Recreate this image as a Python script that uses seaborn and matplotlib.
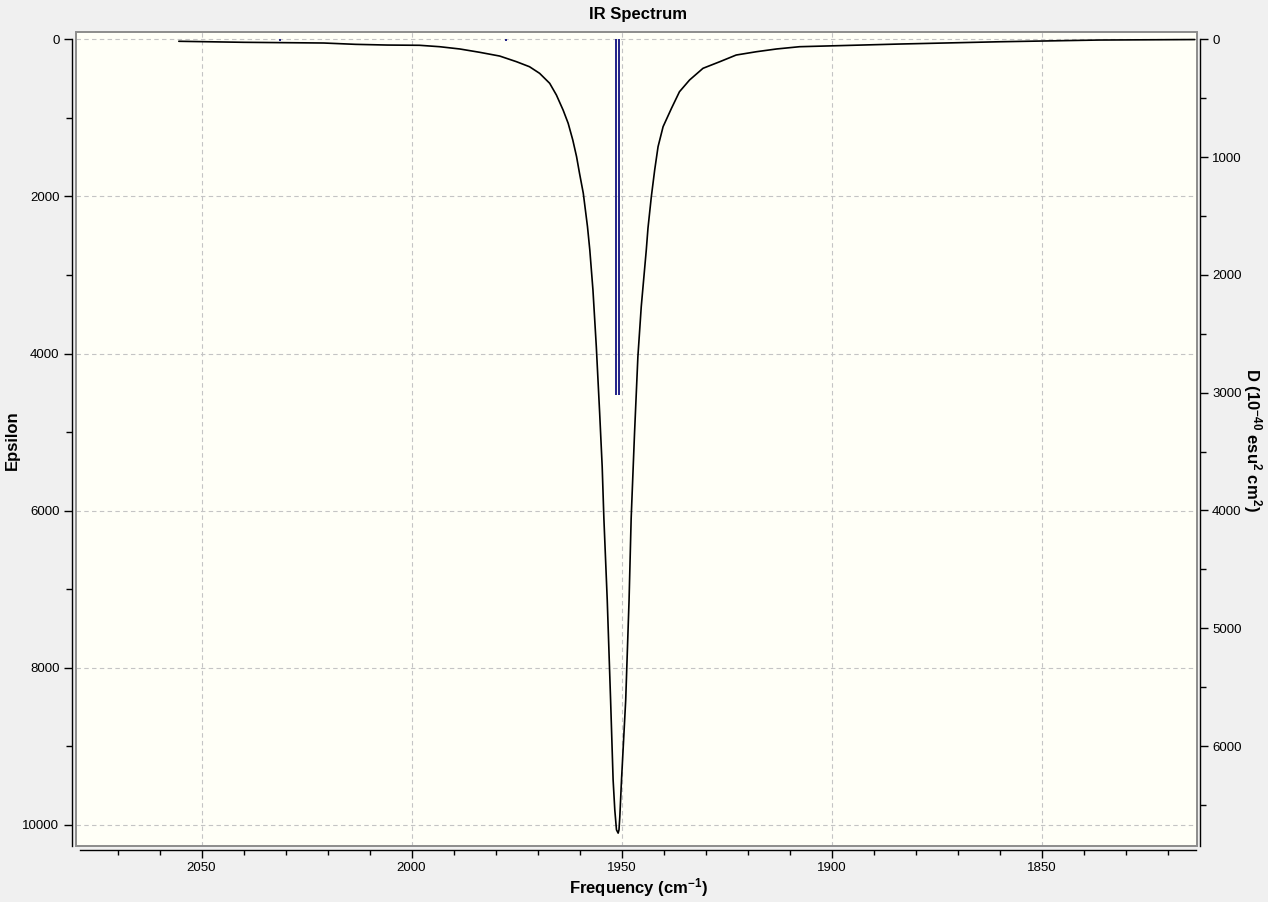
import numpy as np
import pandas as pd
import matplotlib
matplotlib.use("Agg")
import matplotlib.pyplot as plt
from matplotlib.patches import Rectangle
from matplotlib.ticker import MultipleLocator, FixedLocator
import seaborn as sns

# spectrum curve (cm-1, epsilon)
freq = [2055.4, 2040.0, 2020.9, 2013.3, 2005.7, 1998.1, 1993.3, 1988.5, 1983.8,
        1979.0, 1975.0, 1971.9, 1969.5, 1967.1, 1965.5, 1963.9, 1962.7, 1961.6,
        1960.7, 1960.0, 1959.1, 1958.1, 1957.55, 1956.8, 1956.0, 1955.2, 1954.6,
        1954.2, 1953.4, 1952.6, 1952.0, 1951.6, 1951.2, 1950.8,
        1950.6, 1950.4, 1950.0, 1949.5, 1949.0, 1948.2, 1947.7, 1946.9, 1946.1,
        1945.3, 1944.1, 1943.7, 1942.9, 1942.1, 1941.3, 1940.1, 1938.1, 1936.2,
        1933.8, 1930.6, 1926.6, 1922.7, 1917.9, 1913.1, 1907.6, 1883.8, 1860.0,
        1836.2, 1813.5]
epsilon = [25, 38, 47, 64, 73, 76, 94, 123, 165,
           213, 285, 349, 433, 560, 709, 901, 1069, 1282,
           1494, 1705, 1960, 2385, 2681, 3191, 3912, 4760, 5440,
           6096, 7136, 8409, 9427, 9809, 10063, 10105,
           10063, 9894, 9427, 8918, 8409, 7136, 6096, 5014, 4040,
           3403, 2681, 2405, 2003, 1663, 1367, 1112, 878, 667,
           518, 369, 285, 200, 158, 123, 94, 60, 31,
           9, 3]

# stick spectrum (cm-1, D in 10^-40 esu^2 cm^2)
stick_freq = [2031.2, 1977.4, 1951.2, 1950.6]
stick_d = [15, 15, 3020, 3020]

x_minor = [2070, 2060, 2040, 2030, 2020, 2010, 1990, 1980, 1970, 1960,
           1940, 1930, 1920, 1910, 1890, 1880, 1870, 1860, 1840, 1830, 1820]

sns.set_style("ticks")
plt.rcParams["font.family"] = ["Liberation Sans", "DejaVu Sans"]
plt.rcParams["mathtext.fontset"] = "custom"
plt.rcParams["mathtext.rm"] = "Liberation Sans"
plt.rcParams["mathtext.bf"] = "Liberation Sans:bold"
plt.rcParams["mathtext.default"] = "bf"
for key in ["text.color", "axes.labelcolor", "xtick.color", "ytick.color"]:
    plt.rcParams[key] = "black"

W, H = 1268, 902
fig = plt.figure(figsize=(W / 100, H / 100), dpi=100, facecolor="#F0F0F0")
left, right, top, bottom = 75.5, 1196.5, 31.7, 846
ax = fig.add_axes([left / W, 1 - bottom / H, (right - left) / W, (bottom - top) / H])
ax.set_facecolor("#FFFFF7")

df = pd.DataFrame({"freq": freq, "eps": epsilon})
sns.lineplot(data=df, x="freq", y="eps", ax=ax, color="black", lw=1.2,
             estimator=None, sort=False)

ax.set_xlim(2080.0, 1813.1)
ax.set_ylim(10269, -97)
ax.set_xlabel("")
ax.set_ylabel("")

ax.xaxis.set_major_locator(MultipleLocator(50))
ax.xaxis.set_minor_locator(FixedLocator(x_minor))
ax.yaxis.set_major_locator(MultipleLocator(2000))
ax.yaxis.set_minor_locator(MultipleLocator(1000))
ax.grid(True, which="major", color="#C4C4C4", linestyle=(0, (4, 3)), lw=0.8)

for s in ["top", "right"]:
    ax.spines[s].set_visible(False)
for s in ["left", "bottom"]:
    ax.spines[s].set_position(("outward", 2.6))
    ax.spines[s].set_color("black")
    ax.spines[s].set_linewidth(1.0)
ax.spines["left"].set_bounds(0, 10269)
ax.spines["bottom"].set_bounds(2079, 1813.1)

ax.tick_params(which="major", length=6, width=1, color="black", labelsize=9.5, pad=3)
ax.tick_params(which="minor", length=3.5, width=1, color="black")
ax.tick_params(axis="y", which="minor", length=4.5)

# grey frame around the plotting area
ax.add_patch(Rectangle((0, 0), 1, 1, transform=ax.transAxes, fill=False,
                       edgecolor="#8C8C8C", lw=1.4, clip_on=False, zorder=5))

# right axis with stick intensities
ax2 = ax.twinx()
ax2.vlines(stick_freq, 0, stick_d, color="#101080", lw=1.3)
ax2.set_ylim(6849, -65)
ax2.yaxis.set_major_locator(MultipleLocator(1000))
ax2.yaxis.set_minor_locator(MultipleLocator(500))
for s in ["top", "left", "bottom"]:
    ax2.spines[s].set_visible(False)
ax2.spines["right"].set_position(("outward", 2.2))
ax2.spines["right"].set_color("black")
ax2.spines["right"].set_linewidth(1.0)
ax2.spines["right"].set_bounds(0, 6849)
ax2.tick_params(which="major", length=6, width=1, color="black", labelsize=9.5, pad=3)
ax2.tick_params(which="minor", length=4.5, width=1, color="black")
ax2.grid(False)

fig.text(638 / W, 1 - 14 / H, "IR Spectrum", ha="center", va="center",
         fontsize=12, fontweight="bold")
fig.text(638 / W, 1 - 888 / H, r"Frequency (cm$^{-1}$)", ha="center", va="center",
         fontsize=12, fontweight="bold")
fig.text(12 / W, 1 - 440 / H, "Epsilon", ha="center", va="center",
         fontsize=12, fontweight="bold", rotation=90)
fig.text(1252 / W, 1 - 440 / H, r"D (10$^{-40}$ esu$^{2}$ cm$^{2}$)", ha="center",
         va="center", fontsize=12, fontweight="bold", rotation=270)

fig.savefig("out.png", dpi=100, facecolor=fig.get_facecolor())
